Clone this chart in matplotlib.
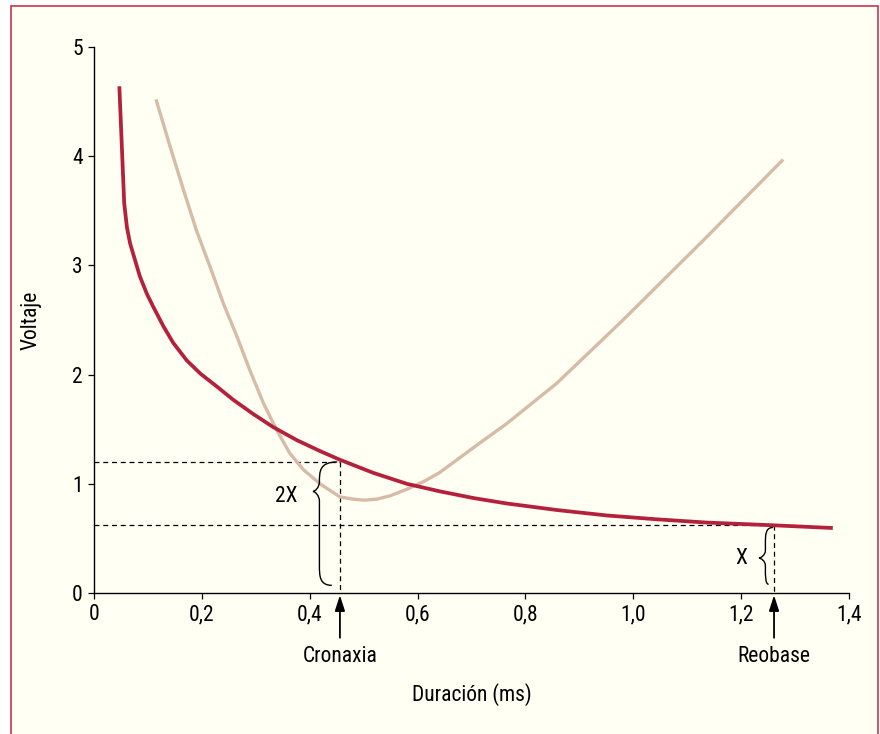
import matplotlib
matplotlib.use("Agg")
import matplotlib.pyplot as plt
from matplotlib.patches import Rectangle, PathPatch
from matplotlib.path import Path
from matplotlib import font_manager as fm

# ---------------- data ----------------
red_x = [0.047, 0.056, 0.061, 0.067, 0.076, 0.085, 0.098, 0.110, 0.129, 0.147, 0.172,
         0.197, 0.228, 0.258, 0.295, 0.332, 0.376, 0.419, 0.456, 0.518, 0.580, 0.642,
         0.703, 0.765, 0.858, 0.951, 1.043, 1.136, 1.260, 1.370]
red_y = [4.64, 3.57, 3.35, 3.20, 3.05, 2.90, 2.74, 2.62, 2.44, 2.29, 2.13,
         2.01, 1.89, 1.77, 1.64, 1.52, 1.40, 1.30, 1.22, 1.10, 1.00, 0.93,
         0.87, 0.82, 0.76, 0.71, 0.675, 0.645, 0.62, 0.595]

beige_x = [0.115, 0.141, 0.166, 0.190, 0.215, 0.240, 0.265, 0.289, 0.314, 0.339, 0.363,
           0.388, 0.419, 0.456, 0.480, 0.502, 0.525, 0.549, 0.580, 0.611, 0.640, 0.673,
           0.720, 0.765, 0.858, 0.981, 1.136, 1.278]
beige_y = [4.52, 4.09, 3.69, 3.32, 2.99, 2.65, 2.35, 2.04, 1.74, 1.49, 1.28,
           1.13, 1.00, 0.88, 0.86, 0.85, 0.86, 0.89, 0.95, 1.02, 1.10, 1.22,
           1.39, 1.55, 1.92, 2.50, 3.26, 3.97]

cronaxia_x = 0.456
reobase_x = 1.261
v_2x = 1.20
v_x = 0.62

x_ticks = [0, 0.2, 0.4, 0.6, 0.8, 1.0, 1.2, 1.4]
x_tick_labels = ["0", "0,2", "0,4", "0,6", "0,8", "1,0", "1,2", "1,4"]
y_ticks = [0, 1, 2, 3, 4, 5]
y_tick_labels = ["0", "1", "2", "3", "4", "5"]

# ---------------- style ----------------
names = {f.name for f in fm.fontManager.ttflist}
fam = [n for n in ["Liberation Sans Narrow", "Roboto Condensed", "Liberation Sans", "DejaVu Sans"] if n in names]
plt.rcParams['font.family'] = fam + ["DejaVu Sans"]

RED = "#B3213B"
BEIGE = "#D8BBA7"
CREAM = "#FFFFF4"
FS = 15.5

fig = plt.figure(figsize=(8.8, 7.34), dpi=100, facecolor="white")
fig.patches.append(Rectangle((11/880, -0.02), (878-11)/880, 1 - 6/734 + 0.02,
                             transform=fig.transFigure, facecolor=CREAM,
                             edgecolor="#C8354D", linewidth=1.2, zorder=-10))

ax = fig.add_axes([94/880, 1 - 593/734, (849-94)/880, (593-47)/734])
ax.set_facecolor("none")

ax.plot(beige_x, beige_y, color=BEIGE, lw=2.4, solid_capstyle="butt",
        solid_joinstyle="round", zorder=3)
ax.plot(red_x, red_y, color=RED, lw=2.7, solid_capstyle="butt",
        solid_joinstyle="round", zorder=4)

# dashed guides
dk = dict(color="black", lw=0.9, ls=(0, (4, 3)), zorder=2)
ax.plot([0, cronaxia_x], [v_2x, v_2x], **dk)
ax.plot([cronaxia_x, cronaxia_x], [v_2x, 0], **dk)
ax.plot([0, reobase_x], [v_x, v_x], **dk)
ax.plot([reobase_x, reobase_x], [v_x, 0], **dk)

def brace(xe_top, xe_bot, xs, xtip, yt, ytip, yb, ry):
    verts = [(xe_top, yt),
             (xs, yt), (xs, yt - ry), (xs, yt - 2 * ry),
             (xs, ytip + ry),
             (xs, ytip + 0.4 * ry), (xtip + 0.3 * (xs - xtip), ytip), (xtip, ytip),
             (xtip + 0.3 * (xs - xtip), ytip), (xs, ytip - 0.4 * ry), (xs, ytip - ry),
             (xs, yb + 2 * ry),
             (xs, yb + ry), (xs, yb), (xe_bot, yb)]
    codes = [Path.MOVETO, Path.CURVE4, Path.CURVE4, Path.CURVE4, Path.LINETO,
             Path.CURVE4, Path.CURVE4, Path.CURVE4, Path.CURVE4, Path.CURVE4, Path.CURVE4,
             Path.LINETO, Path.CURVE4, Path.CURVE4, Path.CURVE4]
    ax.add_patch(PathPatch(Path(verts, codes), facecolor="none", edgecolor="black",
                           lw=1.0, zorder=5, clip_on=False))

brace(cronaxia_x - 0.005, cronaxia_x - 0.015, cronaxia_x - 0.038, cronaxia_x - 0.050,
      v_2x, 0.93, 0.07, 0.09)
brace(reobase_x - 0.002, reobase_x - 0.010, reobase_x - 0.016, reobase_x - 0.028,
      v_x - 0.02, 0.32, 0.08, 0.07)

ax.text(0.356, 0.88, "2X", fontsize=FS, ha="center", va="center")
ax.text(1.200, 0.32, "X", fontsize=FS, ha="center", va="center")

# arrows and labels below axis
for xv, lab in [(cronaxia_x, "Cronaxia"), (reobase_x, "Reobase")]:
    ax.annotate("", xy=(xv, -0.02), xytext=(xv, -0.41),
                arrowprops=dict(arrowstyle="-|>,head_length=0.62,head_width=0.2",
                                color="black", lw=1.3, mutation_scale=15,
                                shrinkA=0, shrinkB=0),
                annotation_clip=False)
    ax.text(xv, -0.585, lab, fontsize=FS, ha="center", va="center")

ax.set_xlim(0, 1.4)
ax.set_ylim(0, 5)
ax.set_xticks(x_ticks)
ax.set_xticklabels(x_tick_labels)
ax.set_yticks(y_ticks)
ax.set_yticklabels(y_tick_labels)
ax.tick_params(direction="out", length=4.5, width=0.9, pad=3.5, labelsize=FS)
for s in ["top", "right"]:
    ax.spines[s].set_visible(False)
for s in ["left", "bottom"]:
    ax.spines[s].set_linewidth(1.0)

ax.set_xlabel("Duración (ms)", fontsize=FS, labelpad=42)
ax.set_ylabel("Voltaje", fontsize=FS, labelpad=22)

fig.savefig("out.png", dpi=100, facecolor="white")
